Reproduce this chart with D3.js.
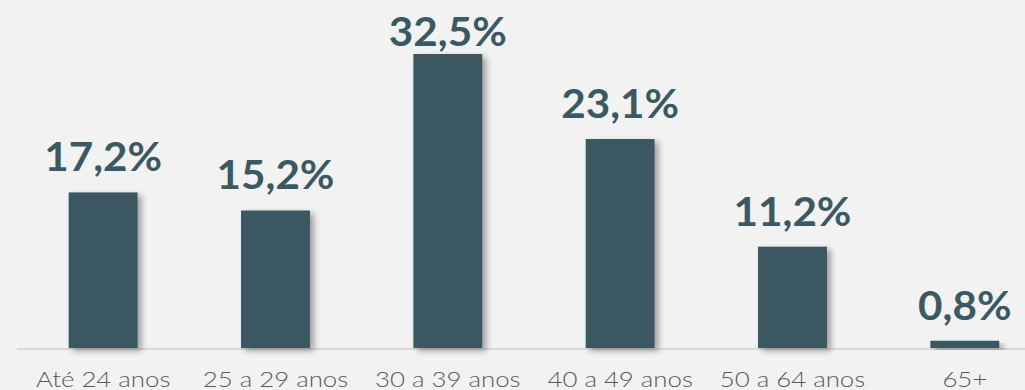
<!DOCTYPE html>
<html>
<head>
<meta charset="utf-8">
<script src="https://cdn.jsdelivr.net/npm/d3@7"></script>
<style>
  html, body { margin: 0; padding: 0; background: #f2f2f2; }
  svg { display: block; }
</style>
</head>
<body>
<div id="chart"></div>
<script>
// Faixas etárias e participação (%)
const categories = ["Até 24 anos", "25 a 29 anos", "30 a 39 anos", "40 a 49 anos", "50 a 64 anos", "65+"];
const values = [17.2, 15.2, 32.5, 23.1, 11.2, 0.8];
const valueLabels = ["17,2%", "15,2%", "32,5%", "23,1%", "11,2%", "0,8%"];

const W = 1025, H = 390;
const baseline = 348;
const barColor = "#3b5962";

const svg = d3.select("#chart").append("svg")
  .attr("width", W).attr("height", H);

svg.append("rect").attr("width", W).attr("height", H).attr("fill", "#f2f2f2");

const defs = svg.append("defs");
const f = defs.append("filter").attr("id", "shadow")
  .attr("x", "-30%").attr("y", "-10%").attr("width", "160%").attr("height", "130%");
f.append("feGaussianBlur").attr("in", "SourceAlpha").attr("stdDeviation", 3).attr("result", "b");
f.append("feOffset").attr("in", "b").attr("dx", 4).attr("dy", 3).attr("result", "o");
f.append("feComponentTransfer").attr("in", "o").attr("result", "s")
  .append("feFuncA").attr("type", "linear").attr("slope", 0.35);
const m = f.append("feMerge");
m.append("feMergeNode").attr("in", "s");
m.append("feMergeNode").attr("in", "SourceGraphic");

const x = d3.scaleBand()
  .domain(categories)
  .range([17, 1051])
  .paddingInner(0.6)
  .paddingOuter(0.3);

const y = d3.scaleLinear()
  .domain([0, 32.5])
  .range([baseline, 54]);

// baseline axis
svg.append("line")
  .attr("x1", 17).attr("x2", W)
  .attr("y1", baseline + 1).attr("y2", baseline + 1)
  .attr("stroke", "#d9d9d9").attr("stroke-width", 2);

const data = categories.map((c, i) => ({ c, v: values[i], label: valueLabels[i] }));

svg.append("g").selectAll("rect").data(data).join("rect")
  .attr("x", d => x(d.c))
  .attr("width", x.bandwidth())
  .attr("y", d => y(d.v))
  .attr("height", d => baseline - y(d.v))
  .attr("fill", barColor)
  .attr("filter", "url(#shadow)");

// value labels
svg.append("g").selectAll("text").data(data).join("text")
  .attr("transform", d => `translate(${x(d.c) + x.bandwidth() / 2},${Math.max(y(d.v) - 21, 46)}) scale(1.03,1)`)
  .attr("text-anchor", "middle")
  .attr("font-family", "Lato, 'Open Sans', sans-serif")
  .attr("font-weight", 700)
  .attr("font-size", 41)
  .attr("fill", barColor)
  .text(d => d.label);

// category labels (wide geometric look)
svg.append("g").selectAll("text").data(categories).join("text")
  .attr("transform", d => `translate(${x(d) + x.bandwidth() / 2},387) scale(1.23,1)`)
  .attr("text-anchor", "middle")
  .attr("font-family", "Lato, 'Open Sans', sans-serif")
  .attr("font-weight", 300)
  .attr("font-size", 21)
  .attr("fill", "#595959")
  .text(d => d);
</script>
</body>
</html>
